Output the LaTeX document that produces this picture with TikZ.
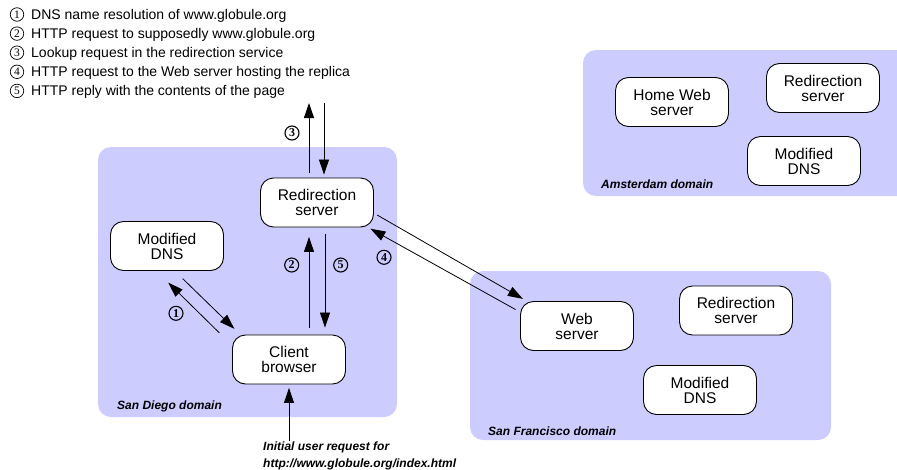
\documentclass[tikz,border=0pt]{standalone}
\usepackage{fontspec}
\setmainfont{Liberation Sans}
\newfontfamily\serifnum{Liberation Serif}
\usetikzlibrary{arrows.meta,calc}
\definecolor{domainfill}{HTML}{CCCCFF}
\begin{document}
\begin{tikzpicture}[x=1pt,y=-1pt,
  box/.style={draw=black, line width=0.9pt, fill=white, rounded corners=13pt,
    minimum width=113pt, minimum height=49pt, align=center, inner sep=0pt,
    font=\fontsize{15.5}{15}\selectfont},
  domainbox/.style={fill=domainfill, rounded corners=13pt},
  dlabel/.style={anchor=base west, inner sep=0pt, font=\fontsize{12}{12}\selectfont\bfseries\itshape},
  conn/.style={line width=0.8pt, -{Triangle[length=15pt,width=10pt]}},
  cnum/.style={circle, draw, line width=0.7pt, inner sep=0pt, minimum size=13.5pt,
    font=\serifnum\fontsize{11.5}{11.5}\selectfont},
  cnumb/.style={circle, draw, line width=1.1pt, inner sep=0pt, minimum size=14pt,
    font=\serifnum\fontsize{12}{12}\selectfont\bfseries},
  legend/.style={anchor=base west, inner sep=0pt, font=\fontsize{14}{14}\selectfont}]
\clip (0,0) rectangle (897,469);
\fill[white] (0,0) rectangle (897,469);

% legend
\node[cnum] (c1) at (17,14.5) {1};
\node[legend] (l1) at (31,19.5) {DNS name resolution of www.globule.org};
\node[cnum] (c2) at (17,33.6) {2};
\node[legend] (l2) at (31,38.6) {HTTP request to supposedly www.globule.org};
\node[cnum] (c3) at (17,52.7) {3};
\node[legend] (l3) at (31,57.7) {Lookup request in the redirection service};
\node[cnum] (c4) at (17,71.8) {4};
\node[legend] (l4) at (31,76.8) {HTTP request to the Web server hosting the replica};
\node[cnum] (c5) at (17,90.9) {5};
\node[legend] (l5) at (31,95.9) {HTTP reply with the contents of the page};

% domains
\fill[domainbox] (98,147) rectangle (397,417);
\fill[domainbox] (470,271) rectangle (831,440);
\fill[domainbox] (583,50) rectangle (915,196);
\node[dlabel] (sdlbl) at (117,409) {San Diego domain};
\node[dlabel] (sflbl) at (488,435) {San Francisco domain};
\node[dlabel] (amlbl) at (601,188.5) {Amsterdam domain};

% nodes
\node[box] (sdred) at (317,202.5) {Redirection\\server};
\node[box] (sddns) at (167,246) {Modified\\DNS};
\node[box] (client) at (289,359.5) {Client\\browser};
\node[box] (amhome) at (672,102) {Home Web\\server};
\node[box] (amred) at (823,88) {Redirection\\server};
\node[box] (amdns) at (804,161) {Modified\\DNS};
\node[box] (sfweb) at (577,326) {Web\\server};
\node[box] (sfred) at (736,310.5) {Redirection\\server};
\node[box] (sfdns) at (700,390) {Modified\\DNS};

% arrow 3
\coordinate (up3) at (309,103);
\coordinate (dn3) at (324,103);
\draw[conn] ($(sdred.north)+(-8,-5)$) -- (up3);
\draw[conn] (dn3) -- ($(sdred.north)+(7,-3)$);
\node[cnumb] (n3) at (292,133) {3};

% arrows 2 and 5
\draw[conn] ($(client.north)+(20,-7)$) -- ($(sdred.south)+(-8,9.5)$);
\draw[conn] ($(sdred.south)+(8,7)$) -- ($(client.north)+(36,-7)$);
\node[cnumb] (n2) at (291.7,265) {2};
\node[cnumb] (n5) at (340.7,265) {5};

% arrows 1
\draw[conn] ($(client.north west)+(-12.7,-1.7)$) -- ($(sddns.south)+(1.3,11.7)$);
\draw[conn] ($(sddns.south)+(15.7,7.7)$) -- ($(client.north west)+(2.3,-5.7)$);
\node[cnumb] (n1) at (176,313.3) {1};

% arrows 4
\draw[conn] ($(sdred.east)+(3.2,12.5)$) -- ($(sfweb.north west)+(2.8,-2.2)$);
\draw[conn] ($(sfweb.north west)+(-4.5,8.5)$) -- ($(sdred.south east)+(-3.5,1.3)$);
\node[cnumb] (n4) at (384,257.3) {4};

% initial request
\coordinate (init) at (289,441);
\draw[conn] (init) -- ($(client.south)+(0,3.5)$);
\node[dlabel] (initl1) at (263,450.7) {Initial user request for};
\node[dlabel] (initl2) at (263,467) {http://www.globule.org/index.html};
\end{tikzpicture}
\end{document}
